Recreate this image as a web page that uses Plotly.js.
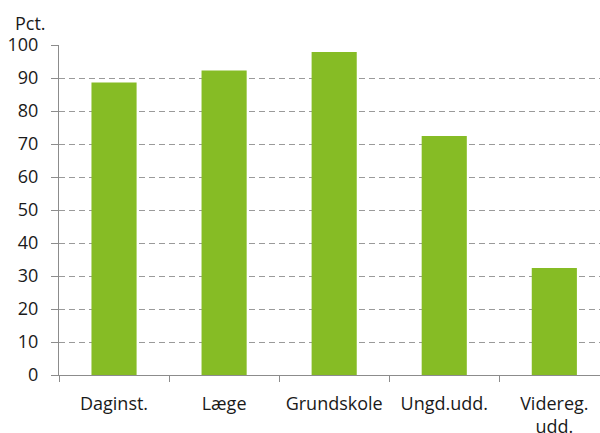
<!DOCTYPE html>
<html>
<head>
<meta charset="utf-8">
<script src="https://cdn.plot.ly/plotly-3.0.1.min.js"></script>
<style>html,body{margin:0;padding:0;background:#fff;}#chart{width:600px;height:433px;}</style>
</head>
<body>
<div id="chart"></div>
<script>
const categories = ["Daginst.", "Læge", "Grundskole", "Ungd.udd.", "Videreg.<br>udd."];
const values = [88.6, 92.3, 97.9, 72.4, 32.4];
const yTicks = [0, 10, 20, 30, 40, 50, 60, 70, 80, 90, 100];
const unitLabel = "Pct.";

const font = {family: "'Open Sans', sans-serif", size: 18, color: "#1a1a1a"};

Plotly.newPlot("chart", [{
  type: "bar",
  x: categories,
  y: values,
  width: 0.41,
  marker: {color: "#86bc25", line: {width: 0}},
  hoverinfo: "none"
}], {
  width: 600, height: 433,
  margin: {l: 59.3, r: 0, t: 44.7, b: 57.7, pad: 0},
  paper_bgcolor: "#fff", plot_bgcolor: "#fff",
  font: font,
  showlegend: false,
  bargap: 0.59,
  xaxis: {
    type: "category",
    range: [-0.5, 4.415],
    showline: true, linecolor: "#8c8c8c", linewidth: 1,
    ticks: "outside", tickson: "boundaries", ticklen: 6, tickcolor: "#8c8c8c",
    showgrid: false, zeroline: false,
    tickfont: font,
    ticklabelstandoff: 12,
    fixedrange: true
  },
  yaxis: {
    range: [0, 100],
    tickvals: yTicks,
    showline: true, linecolor: "#8c8c8c", linewidth: 1,
    ticks: "outside", ticklen: 7, tickcolor: "#8c8c8c",
    showgrid: true, gridcolor: "#9a9a9a", gridwidth: 1, griddash: "6px,4px",
    zeroline: false,
    tickfont: font,
    ticklabelstandoff: 9,
    fixedrange: true
  },
  annotations: [{
    text: unitLabel, xref: "paper", yref: "paper",
    x: -0.0856, y: 1.066, xanchor: "left", yanchor: "middle",
    showarrow: false, font: font
  }]
}, {displayModeBar: false, staticPlot: true});
</script>
</body>
</html>
